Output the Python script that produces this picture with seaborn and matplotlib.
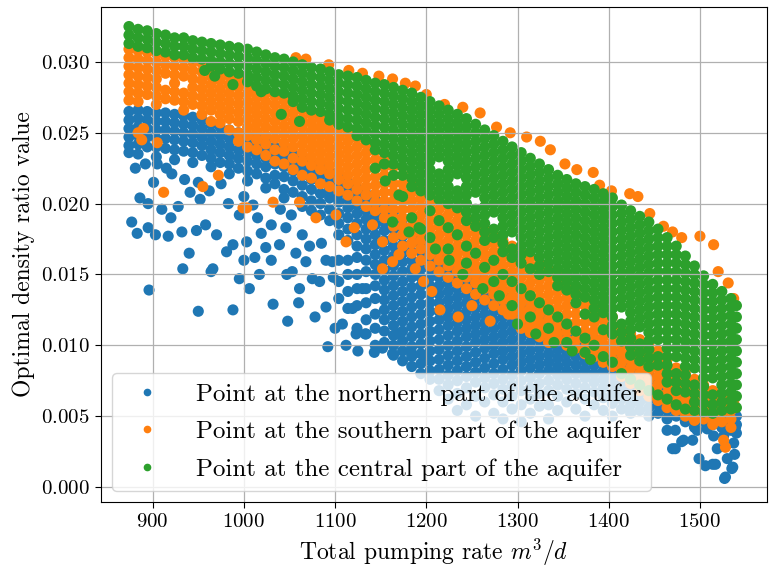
import matplotlib
matplotlib.use("Agg")
import matplotlib.pyplot as plt
import pandas as pd
import seaborn as sns
from matplotlib.lines import Line2D

plt.rcParams.update({
    "font.family": "serif",
    "font.serif": ["cmr10", "DejaVu Serif"],
    "mathtext.fontset": "cm",
    "axes.formatter.use_mathtext": True,
    "axes.unicode_minus": False,
})

LABELS = ["Point at the northern part of the aquifer",
          "Point at the southern part of the aquifer",
          "Point at the central part of the aquifer"]
COLORS = ["#1f77b4", "#ff7f0e", "#2ca02c"]

# y values are in units of 1e-4 (e.g. 325 -> 0.0325); each entry: (pumping rate, [ratio values])
NORTH_BAND = [
    (874, [265, 259, 253, 247, 241, 236]), (884, [266, 260, 254, 248, 242, 235]),
    (894, [265, 259, 253, 247, 240]), (904, [264, 258, 252, 246, 240, 233]),
    (914, [264, 258, 252, 246, 239]), (924, [263, 257, 251, 245, 238, 231]),
    (934, [262, 256, 250, 244, 237]), (944, [261, 255, 249, 243, 236, 229]),
    (954, [259, 253, 247, 241, 234]), (964, [256, 250, 244, 238, 232, 226]),
    (974, [254, 248, 242, 236, 229]), (984, [252, 246, 240, 234, 228, 221]),
    (994, [250, 244, 238, 232, 225]), (1004, [248, 242, 236, 230, 223, 216]),
    (1014, [246, 240, 234, 228, 221]), (1024, [244, 238, 232, 226, 218, 211]),
    (1034, [240, 234, 228, 220, 214]), (1044, [238, 232, 226, 219, 210, 204]),
    (1054, [235, 229, 223, 216, 208]), (1064, [232, 226, 220, 213, 205, 198]),
    (1074, [229, 223, 217, 210, 202, 195]), (1084, [226, 220, 214, 207, 200, 192]),
    (1094, [222, 216, 210, 204, 196, 188]),
    (1104, [219, 213, 207, 201, 193, 186, 178, 160, 145, 133]),
    (1114, [215, 209, 203, 197, 190, 182, 174, 160, 150, 138, 126]),
    (1124, [211, 205, 199, 193, 186, 178, 170, 162, 150, 140, 128, 112]),
    (1134, [207, 201, 195, 189, 182, 175, 168, 160, 152, 140, 130, 118, 108]),
    (1144, [203, 197, 191, 185, 178, 171, 164, 157, 150, 142, 133, 122, 112, 100]),
    (1154, [199, 193, 187, 181, 174, 167, 160, 153, 146, 139, 132, 125, 118, 110, 102]),
    (1164, [194, 188, 182, 176, 170, 163, 156, 149, 142, 135, 128, 121, 114, 107, 100, 93]),
    (1174, [189, 183, 177, 171, 165, 159, 152, 145, 138, 131, 124, 117, 110, 103, 96, 89]),
    (1184, [184, 178, 172, 166, 160, 154, 148, 141, 134, 127, 120, 113, 106, 99, 92, 85]),
    (1194, [178, 172, 166, 160, 154, 148, 142, 136, 129, 122, 115, 108, 101, 94, 87, 80]),
    (1204, [172, 166, 160, 154, 148, 142, 136, 130, 124, 117, 110, 103, 96, 89, 82, 76]),
    (1214, [166, 160, 154, 148, 142, 136, 130, 124, 118, 111, 104, 97, 90, 83, 76, 68]),
    (1224, [162, 156, 150, 144, 138, 132, 126, 120, 114, 107, 100, 93, 86, 79, 72, 62]),
    (1234, [158, 152, 146, 140, 134, 128, 122, 116, 110, 103, 96, 89, 82, 75, 66, 54]),
    (1244, [154, 148, 142, 136, 130, 124, 118, 112, 106, 99, 92, 85, 78, 70, 58]),
    (1254, [150, 144, 138, 132, 126, 120, 114, 108, 102, 95, 88, 81, 74, 64, 50]),
    (1264, [146, 140, 134, 128, 122, 116, 110, 104, 98, 91, 84, 77, 70, 60]),
    (1274, [142, 136, 130, 124, 118, 112, 106, 100, 94, 87, 80, 73, 65, 52]),
    (1284, [138, 132, 126, 120, 114, 108, 102, 96, 90, 83, 76, 69, 60, 48]),
    (1294, [134, 128, 122, 116, 110, 104, 98, 92, 86, 79, 72, 64, 55]),
    (1304, [130, 124, 118, 112, 106, 100, 94, 88, 82, 75, 68, 58, 46]),
    (1314, [126, 120, 114, 108, 102, 96, 90, 84, 77, 70, 62, 52]),
    (1324, [122, 116, 110, 104, 98, 92, 86, 80, 73, 66, 57]),
    (1334, [118, 112, 106, 100, 94, 88, 82, 75, 68, 58, 48]),
    (1344, [115, 109, 103, 97, 91, 85, 79, 72, 64, 54]),
    (1354, [112, 106, 100, 94, 88, 82, 76, 69, 60]),
    (1364, [110, 104, 98, 92, 86, 80, 73, 66, 55]),
    (1374, [107, 101, 95, 89, 83, 77, 70, 62, 50]),
    (1384, [104, 98, 92, 86, 80, 74, 67, 58]),
    (1394, [100, 94, 88, 82, 76, 70, 63, 54]),
    (1404, [96, 90, 84, 78, 72, 66, 59, 50]),
    (1414, [92, 86, 80, 74, 68, 62, 55]), (1424, [88, 82, 76, 70, 64, 58, 52]),
    (1434, [84, 78, 72, 66, 60, 54]), (1444, [80, 74, 68, 62, 56, 50]),
    (1454, [76, 70, 64, 58, 52]), (1464, [72, 66, 60, 54, 48]),
    (1474, [68, 62, 56, 50]), (1484, [64, 58, 52, 46]), (1494, [60, 54, 48, 42]),
    (1504, [58, 52, 46]), (1514, [56, 50, 44]), (1524, [54, 48, 42]),
    (1534, [52, 46, 40]), (1540, [50, 44, 38]),
]
NORTH_SCATTER = [
    (881, 225), (892, 228), (901, 215), (895, 200), (886, 204), (877, 187), (883, 179),
    (895, 183), (903, 178), (896, 139), (917, 177), (921, 221), (932, 180), (928, 198),
    (935, 217), (941, 208), (952, 203), (948, 181), (958, 185), (950, 124), (970, 178),
    (981, 166), (988, 171), (988, 125), (1003, 173), (995, 192), (1006, 140), (1010, 199),
    (1019, 179), (1024, 169), (1032, 129), (1039, 171), (1046, 183), (1048, 117),
    (1052, 192), (1064, 178), (1068, 159), (1075, 147), (1083, 145), (1092, 99),
    (1097, 159), (1108, 115), (1119, 126), (1130, 140), (1123, 108), (1133, 108),
    (1143, 95), (1152, 98), (1163, 94), (1170, 108), (1184, 94), (1202, 90), (966, 154),
    (964, 152), (995, 147), (1017, 150), (1053, 152), (1061, 140), (933, 154), (905, 228),
    (915, 225), (950, 215), (962, 209), (975, 214), (983, 200), (1000, 205), (1015, 190),
    (1030, 185), (1040, 196), (1057, 165), (1072, 170), (1085, 172), (1090, 160),
    (1098, 148), (910, 196), (920, 190), (940, 165), (1000, 160), (1012, 162), (1030, 160),
    (1047, 150), (1060, 130), (1078, 120), (1090, 127), (1100, 112), (1112, 100), (1125, 96),
    (1464, 40), (1473, 40), (1473, 27), (1482, 33), (1492, 33), (1497, 40), (1499, 20),
    (1506, 15), (1517, 16), (1528, 7), (1530, 20), (1536, 14), (1537, 31), (1539, 42),
    (1515, 36), (1521, 48), (1486, 47), (1470, 27), (1514, 16), (1527, 6), (1535, 13),
    (1538, 23), (1480, 32), (1519, 27), (1508, 41), (1526, 36),
]

SOUTH_BAND = [
    (874, [309, 303, 297, 291, 285, 279, 273]), (884, [308, 302, 296, 290, 284, 278, 272]),
    (894, [307, 301, 295, 289, 283, 277]), (904, [306, 300, 294, 288, 282, 276, 270]),
    (914, [304, 298, 292, 280, 274]), (924, [303, 297, 291, 285, 279, 273]),
    (934, [302, 296, 290, 278, 272, 266]), (944, [300, 294, 288, 282, 276, 270]),
    (954, [299, 293, 287, 281, 275, 269, 263]), (964, [296, 290, 284, 278, 272, 266, 258]),
    (974, [293, 287, 281, 275, 269, 263, 257]), (984, [290, 284, 278, 272, 266, 260, 252]),
    (994, [288, 282, 276, 270, 264, 258, 250, 244]),
    (1004, [284, 278, 272, 266, 260, 254, 248, 240]),
    (1014, [281, 275, 269, 263, 257, 251, 245, 238]),
    (1024, [278, 272, 266, 260, 254, 248, 242, 234]),
    (1034, [276, 270, 264, 258, 252, 246, 238, 230]),
    (1044, [273, 267, 261, 255, 249, 243, 237, 228]),
    (1054, [270, 264, 258, 252, 246, 240, 232, 224]),
    (1064, [266, 260, 254, 248, 242, 236, 230, 220]),
    (1074, [263, 257, 251, 245, 239, 233, 227, 218]),
    (1084, [260, 254, 248, 242, 236, 230, 224, 214]),
    (1094, [257, 251, 245, 239, 233, 227, 221, 212]),
    (1104, [253, 247, 241, 235, 229, 223, 217, 209]),
    (1114, [250, 244, 238, 232, 226, 220, 214, 206]),
    (1124, [246, 240, 234, 228, 222, 216, 210, 202]),
    (1134, [242, 236, 230, 224, 218, 212, 206, 198]),
    (1144, [237, 231, 225, 219, 213, 207, 201, 195]),
    (1154, [232, 226, 220, 214, 208, 202, 196, 190]),
    (1164, [226, 220, 214, 208, 202, 196, 190, 184, 176]),
    (1174, [220, 214, 208, 202, 196, 190, 184, 178, 170]),
    (1184, [214, 208, 202, 196, 190, 184, 178, 172, 165]),
    (1194, [210, 204, 198, 192, 186, 180, 174, 168, 160]),
    (1204, [206, 200, 194, 188, 182, 176, 170, 164, 156]),
    (1214, [202, 196, 190, 184, 178, 172, 166, 160, 152]),
    (1224, [198, 192, 186, 180, 174, 168, 162, 156, 148]),
    (1234, [194, 188, 182, 176, 170, 164, 158, 152, 144]),
    (1244, [190, 184, 178, 172, 166, 160, 154, 148, 140]),
    (1254, [186, 180, 174, 168, 162, 156, 150, 144, 136]),
    (1264, [182, 176, 170, 164, 158, 152, 146, 140, 132]),
    (1274, [178, 172, 166, 160, 154, 148, 142, 136, 128]),
    (1284, [174, 168, 162, 156, 150, 144, 138, 132, 125]),
    (1294, [170, 164, 158, 152, 146, 140, 134, 128, 122]),
    (1304, [166, 160, 154, 148, 142, 136, 130, 124, 118, 112]),
    (1314, [162, 156, 150, 144, 138, 132, 126, 120, 114, 109]),
    (1324, [158, 152, 146, 140, 134, 128, 122, 116, 111, 106]),
    (1334, [154, 148, 142, 136, 130, 124, 118, 112, 107, 102]),
    (1344, [150, 144, 138, 132, 126, 120, 114, 108, 104]),
    (1354, [146, 140, 134, 128, 122, 116, 110, 104, 100]),
    (1364, [140, 134, 128, 122, 116, 110, 104, 98]),
    (1374, [134, 128, 122, 116, 110, 104, 98, 94]),
    (1384, [128, 122, 116, 110, 104, 98, 92]),
    (1394, [124, 118, 112, 106, 100, 94, 88]),
    (1404, [120, 114, 108, 102, 96, 90, 85]),
    (1414, [112, 106, 100, 94, 88, 82, 78]),
    (1424, [108, 102, 96, 90, 84, 78, 73]),
    (1434, [104, 98, 92, 86, 80, 74, 68]),
    (1444, [100, 94, 88, 82, 76, 70, 64]),
    (1454, [96, 90, 84, 78, 72, 66, 61]),
    (1464, [90, 84, 78, 72, 66, 60, 56]),
    (1474, [84, 78, 72, 66, 60, 54]), (1484, [80, 74, 68, 62, 56, 50]),
    (1494, [76, 70, 64, 58, 52, 47]), (1504, [72, 66, 60, 54, 48]),
    (1514, [68, 62, 56, 50, 44]), (1524, [64, 58, 52, 46]), (1534, [60, 54, 48, 42]),
]
SOUTH_SCATTER = [
    (912, 208), (972, 220), (955, 212), (999, 197), (1003, 197), (1032, 201), (1061, 201),
    (1079, 190), (1101, 192), (1112, 173), (1121, 183), (1141, 185), (1152, 173),
    (1170, 164), (1188, 154), (1206, 138), (1197, 145), (1152, 154), (1163, 159),
    (890, 253), (884, 250), (888, 245), (905, 243), (1215, 125), (1235, 120), (1250, 128),
    (1270, 117), (1290, 122), (1515, 47), (1526, 33), (1528, 28), (1532, 62), (1537, 60),
    (1057, 303), (1068, 302), (1093, 298), (1115, 294), (1130, 292), (1148, 290),
    (1163, 288), (1177, 285), (1188, 283), (1200, 277), (1220, 270), (1240, 268),
    (1259, 264), (1277, 254), (1292, 250), (1310, 247), (1325, 244), (1336, 238),
    (1352, 228), (1365, 224), (1383, 222), (1390, 213), (1403, 209), (1423, 207),
    (1432, 205), (1445, 193), (1460, 184), (1470, 180), (1480, 176), (1500, 177),
    (1515, 171), (1520, 152), (1531, 144), (1537, 133),
]

CENTRAL_BAND = [
    (874, [325, 319, 313]), (884, [323, 317, 311]), (894, [322, 316, 310]),
    (904, [320, 314, 308]), (914, [319, 313, 307]), (924, [317, 311, 305]),
    (934, [317, 311, 305]), (944, [315, 309, 303]), (954, [314, 308, 302]),
    (964, [313, 307, 301, 297]), (974, [312, 306, 300, 295]), (984, [311, 305, 299, 293]),
    (994, [310, 304, 298, 292]), (1004, [309, 303, 297, 291, 286]),
    (1014, [307, 301, 295, 289, 283]), (1024, [305, 299, 293, 287, 281]),
    (1034, [303, 297, 291, 285, 279]), (1044, [302, 296, 290, 284, 278]),
    (1054, [300, 294, 288, 282, 276, 272]), (1064, [298, 292, 286, 280, 274, 268]),
    (1074, [296, 290, 284, 278, 272, 266]), (1084, [295, 289, 283, 277, 271, 265]),
    (1094, [293, 287, 281, 275, 269, 263, 259]), (1104, [291, 285, 279, 273, 267, 261, 256]),
    (1114, [290, 284, 278, 272, 266, 260, 254]),
    (1124, [289, 283, 277, 271, 265, 259, 253, 248]),
    (1134, [287, 281, 275, 269, 263, 257, 251, 245]),
    (1144, [285, 279, 273, 267, 261, 255, 249, 243, 238]),
    (1154, [284, 278, 272, 266, 260, 254, 248, 242, 236, 228]),
    (1164, [282, 276, 270, 264, 258, 252, 246, 240, 234, 228, 220]),
    (1174, [280, 274, 268, 262, 256, 250, 244, 238, 232, 226, 220, 205]),
    (1184, [278, 272, 266, 260, 254, 248, 242, 236, 230, 224, 218, 212, 190]),
    (1194, [275, 269, 263, 257, 251, 245, 239, 233, 227, 221, 215, 209, 182]),
    (1204, [272, 266, 260, 254, 248, 242, 236, 230, 224, 218, 212, 206, 195, 176]),
    (1214, [269, 263, 257, 251, 245, 239, 233, 221, 215, 209, 203, 188]),
    (1224, [266, 260, 254, 248, 242, 236, 230, 224, 218, 212, 206, 200, 183, 168]),
    (1234, [263, 257, 251, 245, 239, 233, 227, 221, 209, 203, 197, 178]),
    (1244, [260, 254, 248, 242, 236, 230, 224, 218, 212, 206, 200, 194, 188, 170, 158]),
    (1254, [256, 250, 244, 238, 232, 226, 220, 214, 208, 196, 190, 184, 165]),
    (1264, [252, 246, 240, 234, 228, 222, 216, 210, 204, 198, 192, 186, 180, 174, 155]),
    (1274, [248, 242, 236, 230, 224, 218, 212, 206, 200, 194, 182, 176, 160, 145]),
    (1284, [244, 238, 232, 226, 220, 214, 208, 202, 196, 190, 184, 178, 172, 166, 150]),
    (1294, [240, 234, 228, 222, 216, 210, 204, 198, 192, 186, 180, 168, 162, 145, 128]),
    (1304, [236, 230, 224, 218, 212, 206, 200, 194, 188, 182, 176, 170, 164, 158, 140]),
    (1314, [232, 226, 220, 214, 208, 202, 196, 190, 184, 178, 172, 166, 154, 135, 120]),
    (1324, [228, 222, 216, 210, 204, 198, 192, 186, 180, 174, 168, 162, 156, 150, 130]),
    (1334, [224, 218, 212, 206, 200, 194, 188, 182, 176, 170, 164, 158, 152, 125, 112]),
    (1344, [220, 214, 208, 202, 196, 190, 184, 178, 172, 166, 160, 154, 148, 142, 120]),
    (1354, [217, 211, 205, 199, 193, 187, 181, 175, 169, 163, 157, 151, 145, 139, 115, 102]),
    (1364, [214, 208, 202, 196, 190, 184, 178, 172, 166, 160, 154, 148, 142, 136, 130, 110]),
    (1374, [212, 206, 200, 194, 188, 182, 176, 170, 164, 158, 152, 146, 140, 134, 122, 105, 95]),
    (1384, [210, 204, 198, 192, 186, 180, 174, 168, 162, 156, 150, 144, 138, 132, 126, 120, 100]),
    (1394, [207, 201, 195, 189, 183, 177, 171, 165, 159, 153, 147, 141, 135, 129, 123, 111, 92]),
    (1404, [204, 198, 192, 186, 180, 174, 168, 162, 156, 150, 144, 138, 132, 126, 120, 114, 108, 88]),
    (1414, [199, 193, 187, 181, 175, 169, 163, 157, 151, 145, 139, 133, 127, 115, 109, 103, 80]),
    (1424, [195, 189, 183, 177, 171, 165, 159, 153, 147, 141, 135, 129, 123, 117, 111, 105, 99, 93, 76]),
    (1434, [191, 185, 179, 173, 167, 161, 155, 149, 143, 137, 131, 125, 119, 113, 101, 95, 89, 72]),
    (1444, [187, 181, 175, 169, 163, 157, 151, 145, 139, 133, 127, 121, 115, 109, 103, 97, 91, 85, 68]),
    (1454, [182, 176, 170, 164, 158, 152, 146, 140, 134, 128, 122, 116, 110, 104, 92, 86, 65]),
    (1464, [176, 170, 164, 158, 152, 146, 140, 134, 128, 122, 116, 110, 104, 98, 92, 86, 80, 74, 62]),
    (1474, [170, 164, 158, 152, 146, 140, 134, 128, 122, 116, 110, 104, 98, 92, 80, 74, 68, 58]),
    (1484, [163, 157, 151, 145, 139, 133, 127, 121, 115, 109, 103, 97, 91, 85, 79, 73, 67, 55]),
    (1494, [156, 150, 144, 138, 132, 126, 120, 114, 108, 102, 96, 90, 84, 72, 66, 60, 54]),
    (1504, [149, 143, 137, 131, 125, 119, 113, 107, 101, 95, 89, 83, 77, 71, 65, 59, 53]),
    (1514, [143, 137, 131, 125, 119, 113, 107, 101, 95, 89, 83, 77, 65, 58, 52]),
    (1524, [138, 132, 126, 120, 114, 108, 102, 96, 90, 84, 78, 72, 66, 60, 54]),
    (1534, [133, 127, 121, 115, 109, 103, 97, 91, 85, 79, 73, 67, 61, 55]),
    (1540, [128, 120, 112, 104, 96, 88, 80, 72, 64, 56]),
]
CENTRAL_SCATTER = [
    (1144, 225), (1155, 216), (1170, 206), (1163, 187), (1181, 180), (1192, 183),
    (1210, 168), (1225, 160), (1240, 150), (1262, 140), (1280, 135), (1300, 115),
    (1320, 108), (1340, 102), (1360, 96), (1380, 90), (957, 294), (968, 290),
    (988, 284), (1019, 279), (1041, 263), (1061, 258),
]


def rows(band, scatter, label):
    out = []
    for x, ys in band:
        for y in ys:
            out.append((x, y / 1e4, label))
    for x, y in scatter:
        out.append((x, y / 1e4, label))
    return out


records = (rows(NORTH_BAND, NORTH_SCATTER, LABELS[0])
           + rows(SOUTH_BAND, SOUTH_SCATTER, LABELS[1])
           + rows(CENTRAL_BAND, CENTRAL_SCATTER, LABELS[2]))
df = pd.DataFrame(records, columns=["rate", "ratio", "series"])

fig = plt.figure(figsize=(7.8, 5.76), dpi=100)
ax = fig.add_axes([0.1291, 0.1285, 0.8542, 0.8594])

sns.scatterplot(data=df, x="rate", y="ratio", hue="series", hue_order=LABELS,
                palette=COLORS, s=64, linewidth=0, edgecolor="none",
                legend=False, ax=ax)

ax.set_xlim(843, 1573.5)
ax.set_ylim(-0.00106, 0.03388)
ax.set_xticks([900, 1000, 1100, 1200, 1300, 1400, 1500])
ax.set_yticks([0.0, 0.005, 0.010, 0.015, 0.020, 0.025, 0.030])
ax.grid(True, color="#b0b0b0", linewidth=0.9)
ax.tick_params(labelsize=15, length=4.5)
ax.set_xlabel(r"Total pumping rate $m^3/d$", fontsize=17)
ax.set_ylabel("Optimal density ratio value", fontsize=17)

handles = [Line2D([0], [0], marker="o", linestyle="", color=c, markersize=4.5)
           for c in COLORS]
ax.legend(handles, LABELS, loc="lower left", fontsize=18, framealpha=0.8,
          labelspacing=0.6, handletextpad=0.95, borderaxespad=0.45)

fig.savefig("out.png", dpi=100)
